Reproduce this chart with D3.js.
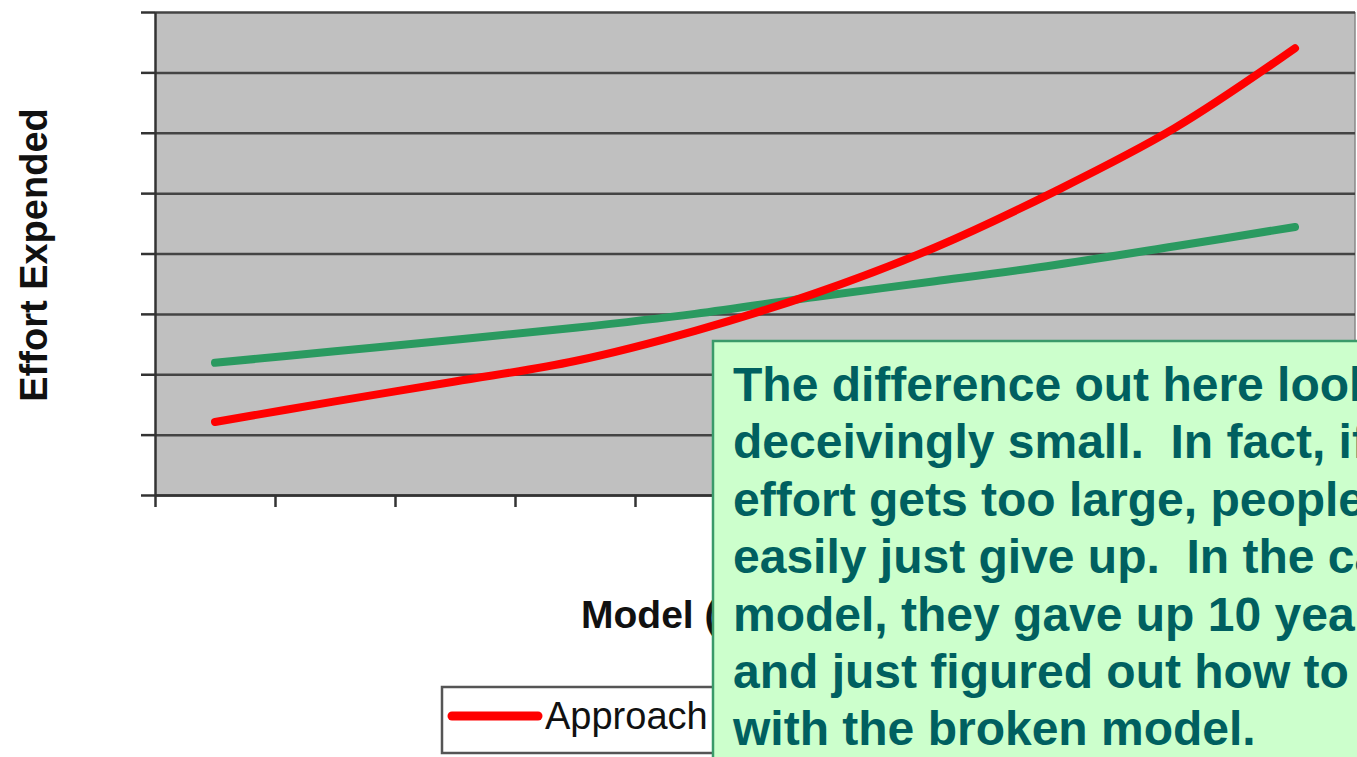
<!DOCTYPE html>
<html>
    <head>
        <meta charset="utf-8">
        <style>
            body { margin: 0; background: #fff; }
            svg { display: block; font-family: "Liberation Sans", Arial, sans-serif; }
            .grid line { stroke: #444; stroke-width: 2.5; }
            .grid path { stroke: none; }
            .axis path, .axis line { stroke: #333; stroke-width: 2.5; }
            .title { font-weight: bold; fill: #111; }
            .note { font-weight: bold; fill: #006060; white-space: pre; }
        </style>
    </head>
    <body>
        <script src="https://d3js.org/d3.v7.min.js"></script>
        <script>
            // chart data
            var categories = ["1", "2", "3", "4", "5", "6", "7", "8", "9", "10"];
            var approachA = [1.21, 1.55, 1.88, 2.22, 2.72, 3.34, 4.10, 5.03, 6.08, 7.40];
            var approachB = [2.19, 2.38, 2.57, 2.77, 3.00, 3.28, 3.54, 3.81, 4.12, 4.44];
            var yTicks = [0, 1, 2, 3, 4, 5, 6, 7, 8];
            var legendLabels = ["Approach A", "Approach B"];
            var noteLines = [
                "The difference out here looks",
                "deceivingly small.  In fact, if the",
                "effort gets too large, people",
                "easily just give up.  In the case",
                "model, they gave up 10 years ago",
                "and just figured out how to live",
                "with the broken model."
            ];

            var width = 1357, height = 757;
            var plot = {left: 155, right: 1355, top: 12, bottom: 495};

            var svg = d3.select("body").append("svg")
                .attr("width", width)
                .attr("height", height);

            var x = d3.scaleBand().domain(categories).range([plot.left, plot.right]);
            var xEdge = d3.scaleLinear().domain([0, categories.length]).range([plot.left, plot.right]);
            var y = d3.scaleLinear().domain([0, 8]).range([plot.bottom, plot.top]);

            // gray plot background
            svg.append("rect")
                .attr("x", plot.left)
                .attr("y", plot.top)
                .attr("width", plot.right - plot.left)
                .attr("height", plot.bottom - plot.top)
                .attr("fill", "#c0c0c0");

            svg.append("line")
                .attr("x1", plot.right).attr("x2", plot.right)
                .attr("y1", plot.top).attr("y2", plot.bottom)
                .attr("stroke", "#888").attr("stroke-width", 1.5);

            svg.append("g")
                .attr("class", "grid")
                .attr("transform", "translate(" + plot.left + ",0)")
                .call(d3.axisLeft(y).tickValues(yTicks).tickSize(-(plot.right - plot.left)).tickFormat(""));

            svg.append("g")
                .attr("class", "axis")
                .attr("transform", "translate(" + plot.left + ",0)")
                .call(d3.axisLeft(y).tickValues(yTicks).tickSize(14).tickSizeOuter(0).tickFormat(""));

            svg.append("g")
                .attr("class", "axis")
                .attr("transform", "translate(0," + plot.bottom + ")")
                .call(d3.axisBottom(xEdge).ticks(categories.length).tickSize(12).tickSizeOuter(0).tickFormat(""));

            var line = d3.line()
                .curve(d3.curveCatmullRom.alpha(0.5))
                .x(function(d, i) { return x(categories[i]) + x.bandwidth() / 2; })
                .y(function(d) { return y(d); });

            svg.append("path")
                .datum(approachB)
                .attr("fill", "none")
                .attr("stroke", "#2a9a60")
                .attr("stroke-width", 8)
                .attr("stroke-linecap", "round")
                .attr("d", line);

            svg.append("path")
                .datum(approachA)
                .attr("fill", "none")
                .attr("stroke", "#ff0000")
                .attr("stroke-width", 8)
                .attr("stroke-linecap", "round")
                .attr("d", line);

            // axis titles
            svg.append("text")
                .attr("class", "title")
                .attr("transform", "translate(47,255) rotate(-90)")
                .attr("text-anchor", "middle")
                .style("font-size", "38px")
                .text("Effort Expended");

            svg.append("text")
                .attr("class", "title")
                .attr("x", 581)
                .attr("y", 628)
                .style("font-size", "39px")
                .text("Model (Complexity)");

            // legend
            var legend = svg.append("g");
            legend.append("rect")
                .attr("x", 442).attr("y", 687)
                .attr("width", 580).attr("height", 66)
                .attr("fill", "#fff")
                .attr("stroke", "#555")
                .attr("stroke-width", 2.5);

            var legendColors = ["#ff0000", "#2a9a60"];
            legendLabels.forEach(function(label, i) {
                var lx = 452 + i * 290;
                legend.append("line")
                    .attr("x1", lx).attr("x2", lx + 86)
                    .attr("y1", 716).attr("y2", 716)
                    .attr("stroke", legendColors[i])
                    .attr("stroke-width", 9)
                    .attr("stroke-linecap", "round");
                legend.append("text")
                    .attr("x", lx + 93)
                    .attr("y", 729)
                    .style("font-size", "38px")
                    .attr("fill", "#111")
                    .text(label);
            });

            // callout box
            svg.append("rect")
                .attr("x", 713).attr("y", 341)
                .attr("width", 700).attr("height", 460)
                .attr("fill", "#ccffcc")
                .attr("stroke", "#3a9a6a")
                .attr("stroke-width", 2.5);

            svg.append("g").selectAll("text")
                .data(noteLines)
                .enter().append("text")
                .attr("class", "note")
                .attr("x", 733)
                .attr("y", function(d, i) { return 401 + i * 57.4; })
                .style("font-size", "48px")
                .text(function(d) { return d; });
        </script>
    </body>
</html>
